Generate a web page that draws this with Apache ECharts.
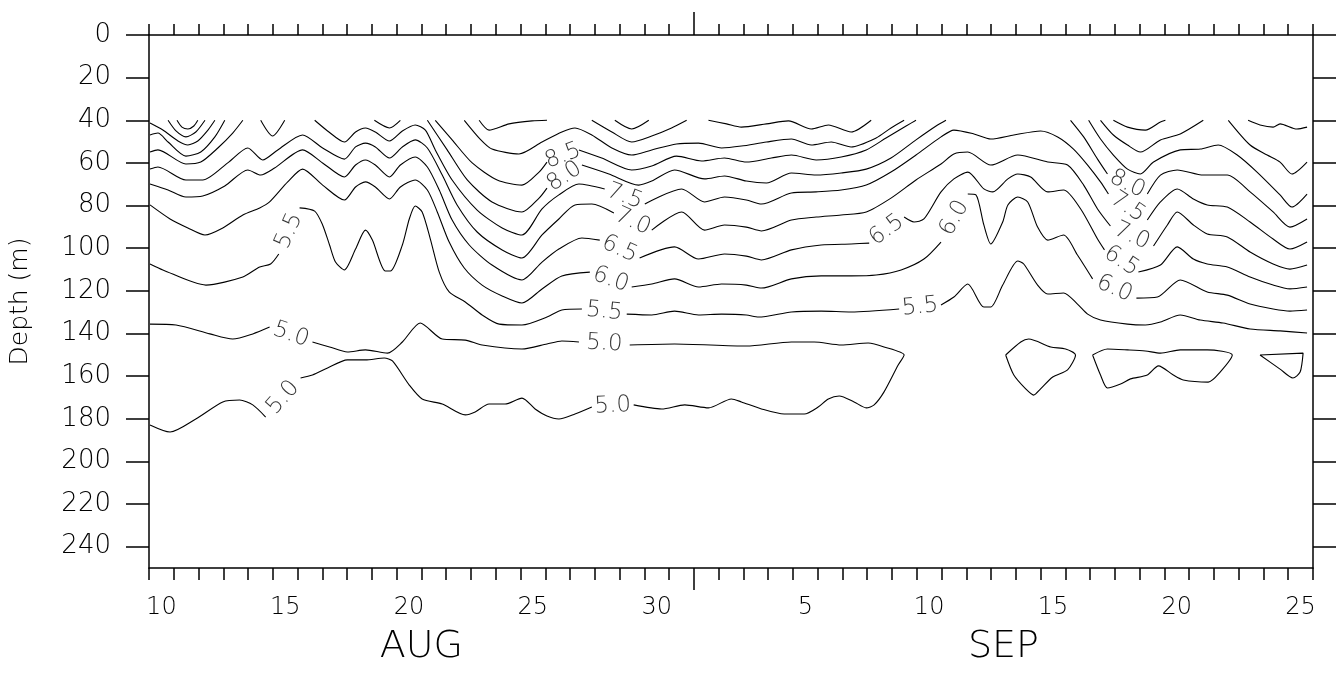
<!DOCTYPE html>
<html><head><meta charset="utf-8">
<script src="https://cdn.jsdelivr.net/npm/echarts@6/dist/echarts.min.js"></script>
<style>html,body{margin:0;padding:0;background:#fff}#c{width:1343px;height:675px}</style>
</head><body><div id="c"></div>
<script>
// x = days since Aug 10 00:00, y = depth (m). 'L' marks a gap holding the contour's label.
const L = 'L';
const xLabelDays = [0.5, 5.5, 10.5, 15.5, 20.5, 26.5, 31.5, 36.5, 41.5, 46.5];
const xLabelText = ['10', '15', '20', '25', '30', '5', '10', '15', '20', '25'];
const monthCenters = [11, 34.5];
const monthNames = ['AUG', 'SEP'];
const monthBoundary = [22];
const depthTicks = [0, 20, 40, 60, 80, 100, 120, 140, 160, 180, 200, 220, 240];

const c50 = [
 [[0.04,135.6],[1.09,136.0],[2.46,140.2],[3.38,142.6],[4.19,140.2],[4.87,137.0],L,
  [6.60,144.0],[7.29,146.3],[8.01,148.7],[8.74,147.7],[9.63,149.2],[10.23,144.0],[10.95,135.1],[11.84,142.6],[12.77,143.1],[13.45,145.4],[15.06,147.3],[16.07,144.9],[16.67,143.5],[17.36,144.0],L,
  [19.41,145.4],[21.22,144.9],[24.12,145.9],[25.94,144.0],[26.86,144.0],[27.95,145.4],[29.04,144.5],[29.68,146.3],[30.49,150.1],[30.25,154.8],[29.68,167.4],[29.28,173.5],[28.96,174.9],[28.47,172.1],[27.87,169.3],[27.43,170.7],[27.02,174.5],[26.46,177.8],[25.65,177.8],[24.73,175.4],[23.92,172.1],[23.52,170.7],[22.59,174.9],[21.63,173.5],[20.70,175.4],[19.57,173.5],L,
  [17.88,174.5],[17.20,177.8],[16.55,180.1],[16.07,178.7],[15.59,175.4],[15.06,170.3],[14.38,173.1],[13.73,173.1],[13.17,176.8],[12.77,178.2],[11.84,173.1],[11.03,170.7],[10.51,164.2],[9.83,152.9],[9.50,151.5],[8.74,152.4],[8.01,152.4],[7.21,156.2],[6.60,159.5],[6.12,160.9],L,
  [4.71,179.2],[4.19,173.5],[3.66,171.2],[2.98,172.1],[1.89,180.1],[0.85,186.2],[0.04,182.9]],
 [[34.59,150.1],[35.20,144.0],[35.52,142.6],[36.41,146.3],[37.01,147.3],[37.41,150.1],[37.09,157.1],[36.49,160.4],[36.00,166.0],[35.72,168.9],[35.40,166.0],[34.92,159.5],[34.59,150.1]],
 [[38.10,150.1],[38.70,147.3],[39.51,147.7],[40.23,148.2],[40.84,149.2],[41.64,147.7],[42.73,147.7],[43.74,150.1],[43.25,158.1],[42.77,162.8],[41.76,161.8],[41.36,159.5],[40.76,155.2],[40.31,159.5],[39.63,161.3],[39.23,163.7],[38.70,165.6],[38.42,159.5],[38.10,150.1]],
 [[44.86,150.1],[46.60,149.2],[46.48,158.1],[46.19,160.9],[45.67,156.7],[44.86,150.1]]
];
const c55 = [
 [[0.04,107.4],[0.56,110.2],[2.30,117.3],[3.79,113.5],[4.47,108.8],[4.91,107.4],[5.24,102.7],L,
  [6.08,81.1],[6.69,82.6],[7.01,89.1],[7.29,98.5],[7.53,106.5],[7.89,110.2],[8.34,100.4],[8.74,91.5],[9.02,96.2],[9.54,110.7],[9.75,110.7],[10.23,98.5],[10.51,86.3],[10.75,80.2],[11.03,83.0],[11.36,95.7],[11.72,111.2],[12.12,120.5],[12.77,125.2],[13.45,131.3],[14.14,135.6],[15.06,136.0],[16.07,132.3],[16.67,129.0],[17.48,128.5],L,
  [19.29,130.9],[20.30,131.3],[21.22,129.5],[22.19,131.3],[23.12,130.9],[24.12,131.3],[24.61,132.3],[25.94,129.9],[27.14,129.5],[28.35,129.9],[30.29,128.5],L,
  [31.98,126.6],[32.50,122.9],[33.06,116.8],[33.71,127.6],[33.99,127.6],[34.47,117.3],[35.08,106.0],[35.32,107.4],[35.88,117.3],[36.29,121.5],[36.93,121.0],[37.49,126.2],[37.90,130.9],[38.42,133.7],[39.51,135.6],[40.23,136.0],[40.84,134.6],[41.64,131.3],[42.45,133.7],[43.37,135.1],[44.46,137.9],[45.67,138.8],[46.76,139.8]]
];
const c60 = [
 [[0.04,79.7],[0.85,86.3],[1.57,90.5],[2.26,93.8],[2.98,90.5],[3.79,84.4],[4.47,81.1],[4.87,78.3],[5.60,68.9],[6.20,62.9],[7.01,70.4],[7.89,77.4],[8.34,71.3],[8.74,68.9],[9.14,71.3],[9.71,76.9],[10.15,71.3],[10.75,68.0],[11.24,72.7],[11.64,83.0],[12.12,97.1],[12.73,109.3],[13.45,117.3],[14.26,122.4],[15.06,125.7],[15.87,119.1],[16.67,113.0],[17.80,111.2],L,
  [19.49,118.2],[20.30,116.8],[21.22,114.4],[22.19,118.2],[23.12,116.8],[24.12,117.3],[24.73,118.7],[25.94,114.4],[27.14,113.0],[28.35,113.0],[29.36,112.6],[30.37,110.2],[31.29,105.1],[31.98,97.1],L,
  [33.06,74.6],[33.39,75.0],[33.71,89.1],[33.99,98.0],[34.47,87.7],[34.68,79.7],[35.08,76.0],[35.48,78.3],[35.88,90.1],[36.29,96.2],[36.93,93.8],[37.49,103.2],[38.10,114.4],L,
  [39.87,123.4],[40.72,122.9],[41.64,114.9],[42.73,120.5],[43.54,122.0],[44.46,126.2],[45.39,128.5],[46.07,129.5],[46.76,129.0]]
];
const c65 = [
 [[0.04,69.9],[0.77,72.7],[1.49,76.0],[2.17,75.5],[3.06,70.8],[3.99,63.3],[4.51,65.7],[5.07,62.4],[6.20,53.9],[7.01,60.0],[7.89,66.6],[8.34,61.0],[8.74,58.6],[9.14,61.0],[9.71,66.6],[10.15,61.0],[10.75,57.2],[11.24,61.9],[11.72,72.7],[12.24,86.8],[12.93,98.5],[13.85,107.9],[15.06,114.9],[15.87,106.5],[16.55,100.4],[17.48,95.2],[18.20,96.2],L,
  [19.81,104.6],[21.22,99.4],[22.19,105.1],[23.24,102.7],[24.12,103.7],[24.73,105.5],[25.94,100.8],[27.14,98.5],[28.35,98.0],[29.08,97.6],L,
  [30.49,85.4],[30.89,87.7],[31.29,86.3],[31.98,73.6],[32.50,67.5],[33.06,64.3],[33.71,72.2],[34.07,73.6],[34.68,67.5],[35.08,65.2],[35.60,66.6],[36.29,73.6],[36.93,72.7],[37.62,81.6],[38.30,95.7],[38.58,100.8],L,
  [39.95,111.2],[40.84,107.9],[41.52,99.4],[42.17,105.1],[42.73,107.4],[43.54,108.8],[44.46,113.5],[45.39,117.3],[46.07,119.1],[46.76,118.2]]
];
const c70 = [
 [[0.04,62.9],[0.36,61.9],[1.49,68.0],[2.17,68.0],[3.18,60.0],[3.99,53.0],[4.59,58.6],[5.20,53.9],[6.20,46.9],[7.01,53.0],[7.89,58.2],[8.34,52.5],[8.74,50.7],[9.14,52.5],[9.71,57.7],[10.23,52.5],[10.75,49.2],[11.24,53.0],[11.84,65.7],[12.44,79.7],[13.25,92.4],[14.26,100.8],[15.06,104.6],[15.87,93.8],[16.55,86.3],[17.20,79.7],[17.88,79.3],[18.77,83.5],L,
  [20.30,91.5],[21.51,83.0],[22.43,91.5],[23.24,89.1],[24.12,90.1],[24.73,91.9],[25.94,86.8],[26.94,85.4],[27.95,84.4],[28.96,83.0],[29.96,76.5],[30.97,68.0],[31.98,60.5],[32.50,55.8],[33.06,54.9],[33.99,61.0],[35.08,56.3],[36.29,59.6],[37.09,61.0],[37.74,70.4],[38.30,81.6],[38.82,89.6],L,
  [40.56,99.0],[41.12,89.1],[41.52,83.0],[42.17,89.1],[42.73,93.3],[43.54,94.7],[44.46,101.8],[45.39,107.4],[46.07,109.8],[46.76,107.9]]
];
const c75 = [
 [[0.04,54.9],[0.36,53.9],[1.49,60.5],[2.09,59.6],[2.78,53.0],[3.38,46.0],[3.79,40.0]],
 [[4.51,40.0],[4.99,47.4],[5.48,40.0]],
 [[6.69,40.0],[7.21,45.0],[7.89,50.2],[8.34,45.5],[8.74,43.6],[9.14,45.5],[9.71,49.7],[10.23,45.0],[10.75,42.2],[11.16,44.6],[11.56,53.9],[12.24,68.0],[13.25,82.1],[14.26,90.5],[15.06,93.8],[15.87,81.6],[16.55,75.0],[17.36,69.9],[18.40,72.2],L,
  [20.02,79.3],[21.51,72.2],[22.43,78.3],[23.24,76.0],[24.12,77.4],[24.73,79.3],[25.94,74.1],[26.94,73.6],[27.95,72.7],[28.96,70.4],[29.96,64.3],[30.97,56.3],[31.98,47.8],[32.50,44.6],[33.31,46.4],[33.99,48.8],[34.92,46.9],[36.00,45.0],[36.69,47.8],[37.33,53.5],[37.90,61.0],[38.42,68.9],[38.74,74.6],L,
  [40.31,86.8],[40.84,78.3],[41.52,72.2],[42.17,76.9],[42.73,79.7],[43.54,80.7],[44.46,87.7],[45.39,95.7],[46.07,100.4],[46.76,97.1]]
];
const c80 = [
 [[0.04,46.9],[0.36,46.0],[0.77,50.2],[1.49,56.8],[2.09,54.9],[2.66,47.8],[3.06,40.0]],
 [[9.10,40.0],[9.71,43.6],[10.15,40.0]],
 [[11.24,40.0],[12.04,53.9],[12.85,68.0],[13.85,78.3],[15.06,83.0],[15.75,76.5],[16.07,71.8],L,
  [17.48,61.0],[18.57,65.2],[19.77,70.4],[20.30,68.5],[21.22,63.3],[22.43,67.5],[23.24,66.1],[24.12,68.5],[24.93,69.4],[25.94,64.7],[26.94,65.7],[27.95,64.7],[28.96,62.9],[29.96,57.7],[30.97,49.2],[31.78,42.7],[32.18,40.0]],
 [[37.21,40.0],[37.74,47.8],[38.30,58.2],[38.70,65.2],L,
  [40.31,74.6],[40.84,65.7],[41.52,63.3],[42.57,65.7],[43.54,65.7],[44.46,73.6],[45.39,83.0],[46.07,90.1],[46.76,86.3]]
];
const c85 = [
 [[0.04,41.3],[0.56,44.6],[1.17,49.7],[1.57,51.6],[1.97,49.7],[2.38,44.6],[2.66,40.0]],
 [[11.56,40.0],[12.24,49.2],[13.05,60.0],[14.06,68.0],[15.06,70.4],[15.75,64.3],[16.07,59.6],L,
  [17.36,53.9],[18.28,57.7],[19.49,63.3],[20.30,61.4],[21.30,56.8],[22.31,59.1],[23.24,57.7],[24.12,59.6],[25.13,57.7],[25.94,56.3],[26.94,58.6],[27.95,57.2],[28.96,53.9],[29.76,48.3],[30.57,42.7],[30.97,40.0]],
 [[37.94,40.0],[38.42,48.8],[38.94,56.3],[39.51,62.9],[40.03,65.2],[40.56,59.6],[41.64,53.9],[42.45,53.5],[43.17,51.6],[43.94,56.3],[44.74,64.3],[45.67,75.0],[46.15,80.7],[46.76,74.6]]
];
const c90 = [
 [[0.77,40.0],[1.09,45.0],[1.49,47.8],[1.89,45.5],[2.26,40.0]],
 [[12.73,40.0],[13.37,48.8],[13.85,53.5],[14.94,55.8],[15.87,50.2],[16.67,45.5],[17.20,43.6],[17.88,46.9],[18.69,53.0],[19.49,56.3],[20.30,53.9],[21.30,51.1],[22.19,50.7],[23.12,53.0],[23.92,52.1],[24.93,50.2],[25.94,48.8],[26.74,51.6],[27.55,50.2],[28.35,52.5],[29.36,48.3],[29.96,43.6],[30.49,40.0]],
 [[38.42,40.0],[38.94,46.9],[39.51,51.6],[40.03,54.9],[40.84,49.2],[41.64,46.4],[42.57,40.0]],
 [[43.58,40.0],[44.46,51.6],[45.15,56.3],[45.67,59.6],[46.15,65.2],[46.76,59.6]]
];
const c95 = [
 [[1.13,40.0],[1.33,43.2],[1.57,44.1],[1.81,42.7],[1.97,40.0]],
 [[13.33,40.0],[13.73,44.6],[14.54,41.7],[15.47,40.3],[16.07,40.0]],
 [[17.88,40.0],[18.69,45.5],[19.49,50.2],[20.30,47.4],[21.10,43.6],[21.71,40.0]],
 [[22.59,40.0],[23.32,41.7],[23.92,43.2],[24.93,41.7],[25.82,40.3],[26.74,44.1],[27.43,42.2],[28.35,45.5],[29.16,40.0]],
 [[38.94,40.0],[39.51,43.2],[40.23,44.6],[40.84,40.8],[41.04,40.0]],
 [[44.38,40.0],[44.86,42.2],[45.39,43.2],[45.67,41.7],[46.35,44.1],[46.76,43.2]]
];
const c100 = [
 [[18.81,40.0],[19.49,44.1],[20.18,40.0]]
];
const contourLevels = ['5.0', '5.5', '6.0', '6.5', '7.0', '7.5', '8.0', '8.5', '9.0', '9.5', '10.0'];
const contourPieces = [c50, c55, c60, c65, c70, c75, c80, c85, c90, c95, c100];

const FONT = "'DejaVu Sans', sans-serif";
const TXT = '#000';
const chart = echarts.init(document.getElementById('c'), null, {renderer: 'canvas'});

const lineSeries = [];
const gaps = [];
contourPieces.forEach((pieces, li) => {
  pieces.forEach(piece => {
    let seg = [];
    piece.forEach((p, i) => {
      if (p === L) {
        gaps.push({text: contourLevels[li], a: piece[i - 1], b: piece[i + 1]});
        lineSeries.push(seg); seg = [];
      } else seg.push(p);
    });
    lineSeries.push(seg);
  });
});

const tickStyle = {color: '#000', width: 1.5};
const option = {
  animation: false,
  backgroundColor: '#fff',
  grid: {left: 146, top: 35, right: 30, bottom: 107, containLabel: false},
  xAxis: [
    {type: 'value', position: 'bottom', min: 0, max: 47, interval: 1,
     axisLine: {show: true, onZero: false, lineStyle: tickStyle},
     axisTick: {show: true, inside: false, length: 12, lineStyle: tickStyle},
     axisLabel: {show: true, customValues: xLabelDays, margin: 28, fontSize: 24, color: TXT, fontFamily: FONT, fontWeight: 200,
       formatter: v => { const i = xLabelDays.findIndex(d => Math.abs(d - v) < 1e-6); return i >= 0 ? xLabelText[i] : ''; }},
     splitLine: {show: false}},
    {type: 'value', position: 'top', min: 0, max: 47, interval: 1,
     axisLine: {show: true, onZero: false, lineStyle: tickStyle},
     axisTick: {show: true, inside: false, length: 11, lineStyle: tickStyle},
     axisLabel: {show: false}, splitLine: {show: false}},
    {type: 'value', position: 'bottom', min: 0, max: 47, interval: 1,
     axisLine: {show: false, onZero: false},
     axisTick: {show: true, inside: false, length: 22, customValues: monthBoundary, lineStyle: tickStyle},
     axisLabel: {show: true, customValues: monthCenters, margin: 60, fontSize: 38, color: TXT, fontFamily: FONT, fontWeight: 200,
       formatter: v => { const i = monthCenters.findIndex(d => Math.abs(d - v) < 1e-6); return i >= 0 ? monthNames[i] : ''; }},
     splitLine: {show: false}},
    {type: 'value', position: 'top', min: 0, max: 47, interval: 1,
     axisLine: {show: false, onZero: false},
     axisTick: {show: true, inside: false, length: 23, customValues: monthBoundary, lineStyle: tickStyle},
     axisLabel: {show: false}, splitLine: {show: false}}
  ],
  yAxis: [
    {type: 'value', position: 'left', inverse: true, min: 0, max: 250, interval: 20,
     name: 'Depth (m)', nameLocation: 'middle', nameGap: 116, nameRotate: 90,
     nameTextStyle: {fontSize: 25, color: TXT, fontFamily: FONT, fontWeight: 200},
     axisLine: {show: true, onZero: false, lineStyle: tickStyle},
     axisTick: {show: true, inside: false, length: 23, customValues: depthTicks, lineStyle: tickStyle},
     axisLabel: {show: true, customValues: depthTicks, margin: 38, fontSize: 26, color: TXT, fontFamily: FONT, fontWeight: 200},
     splitLine: {show: false}},
    {type: 'value', position: 'right', inverse: true, min: 0, max: 250, interval: 20,
     axisLine: {show: true, onZero: false, lineStyle: tickStyle},
     axisTick: {show: true, inside: false, length: 23, customValues: depthTicks, lineStyle: tickStyle},
     axisLabel: {show: false}, splitLine: {show: false}}
  ],
  series: lineSeries.map(seg => ({
    type: 'line', xAxisIndex: 0, yAxisIndex: 0, data: seg, symbol: 'none', silent: true,
    smooth: 0.25, lineStyle: {color: '#000', width: 1.1}, z: 3
  }))
};
chart.setOption(option);

// contour labels: centred in each gap, rotated along the gap's chord
const labelData = gaps.map(g => {
  const pa = chart.convertToPixel({seriesIndex: 0}, g.a);
  const pb = chart.convertToPixel({seriesIndex: 0}, g.b);
  let dx = pb[0] - pa[0], dy = pb[1] - pa[1];
  if (dx < 0) { dx = -dx; dy = -dy; }
  const rot = Math.atan2(-dy, dx) * 180 / Math.PI;
  return {value: [(g.a[0] + g.b[0]) / 2, (g.a[1] + g.b[1]) / 2], label: {formatter: g.text, rotate: rot}};
});
chart.setOption({series: option.series.concat([{
  type: 'scatter', xAxisIndex: 0, yAxisIndex: 0, symbolSize: 1, silent: true, z: 5,
  itemStyle: {color: 'rgba(0,0,0,0)'},
  label: {show: true, position: 'inside', color: TXT, fontSize: 23, fontFamily: FONT, fontWeight: 200},
  data: labelData
}])});
</script></body></html>
